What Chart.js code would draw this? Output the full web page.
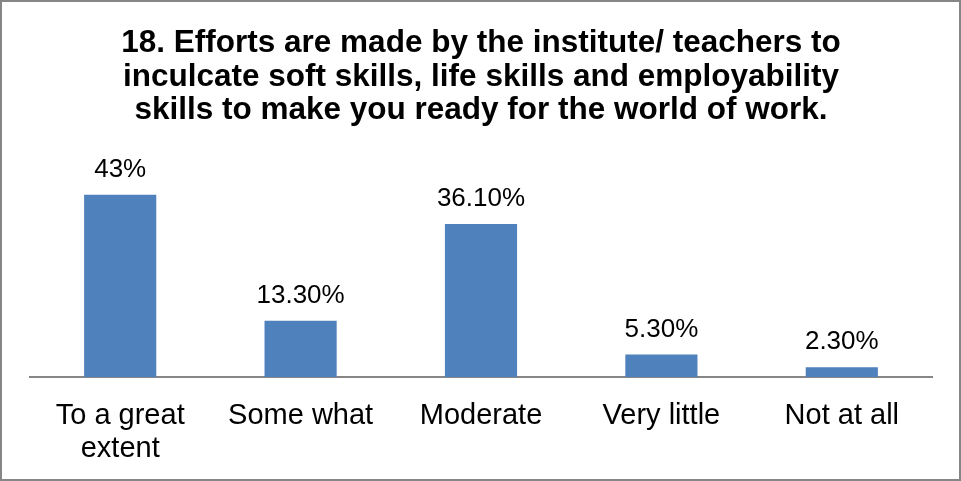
<!DOCTYPE html>
<html>
<head>
<meta charset="utf-8">
<script src="https://cdn.jsdelivr.net/npm/chart.js@4/dist/chart.umd.min.js"></script>
<style>
    html, body { margin: 0; padding: 0; background: #fff; }
    #wrap { width: 961px; height: 481px; position: relative; }
</style>
</head>
<body>
<div id="wrap"><canvas id="surveyChart"></canvas></div>
<script>
// Chart data
const categories = [['To a great', 'extent'], 'Some what', 'Moderate', 'Very little', 'Not at all'];
const percentValues = [43, 13.3, 36.1, 5.3, 2.3];
const valueLabels = ['43%', '13.30%', '36.10%', '5.30%', '2.30%'];
const titleLines = [
    '18. Efforts are made by the institute/ teachers to',
    'inculcate soft skills, life skills and employability',
    'skills to make you ready for the world of work.'
];

const FONT = "'Liberation Sans', Arial, sans-serif";

// white background + grey frame
const framePlugin = {
    id: 'frame',
    beforeDraw(chart) {
        const ctx = chart.ctx;
        ctx.save();
        ctx.fillStyle = '#ffffff';
        ctx.fillRect(0, 0, chart.width, chart.height);
        ctx.strokeStyle = '#868686';
        ctx.lineWidth = 2;
        ctx.strokeRect(1, 1, chart.width - 2, chart.height - 2);
        ctx.restore();
    }
};

// value labels above each bar
const valueLabelPlugin = {
    id: 'valueLabels',
    afterDatasetsDraw(chart) {
        const ctx = chart.ctx;
        const meta = chart.getDatasetMeta(0);
        ctx.save();
        ctx.font = '26px ' + FONT;
        ctx.fillStyle = '#000000';
        ctx.textAlign = 'center';
        ctx.textBaseline = 'alphabetic';
        meta.data.forEach((bar, i) => {
            ctx.fillText(valueLabels[i], bar.x, bar.y - 18);
        });
        ctx.restore();
    }
};

document.addEventListener('DOMContentLoaded', function () {
    const ctx = document.getElementById('surveyChart').getContext('2d');
    new Chart(ctx, {
        type: 'bar',
        data: {
            labels: categories,
            datasets: [{
                data: percentValues,
                backgroundColor: '#4f81bd',
                borderWidth: 0,
                categoryPercentage: 1,
                barPercentage: 0.4
            }]
        },
        options: {
            responsive: true,
            maintainAspectRatio: false,
            animation: false,
            layout: {
                padding: { top: 0, left: 30, right: 29, bottom: 0 }
            },
            plugins: {
                legend: { display: false },
                tooltip: { enabled: false },
                title: {
                    display: true,
                    text: titleLines,
                    color: '#000000',
                    font: { family: FONT, size: 31.5, weight: 'bold', lineHeight: 1.06 },
                    padding: { top: 27, bottom: 38 }
                }
            },
            scales: {
                y: {
                    display: false,
                    min: 0,
                    max: 50
                },
                x: {
                    grid: { display: false, drawTicks: false },
                    border: { display: true, color: '#868686', width: 2 },
                    afterFit(scale) {
                        scale.height = 104;
                    },
                    ticks: {
                        color: '#000000',
                        padding: 22,
                        maxRotation: 0,
                        autoSkip: false,
                        font: { family: FONT, size: 29, lineHeight: 1.14 }
                    }
                }
            }
        },
        plugins: [framePlugin, valueLabelPlugin]
    });
});
</script>
</body>
</html>
